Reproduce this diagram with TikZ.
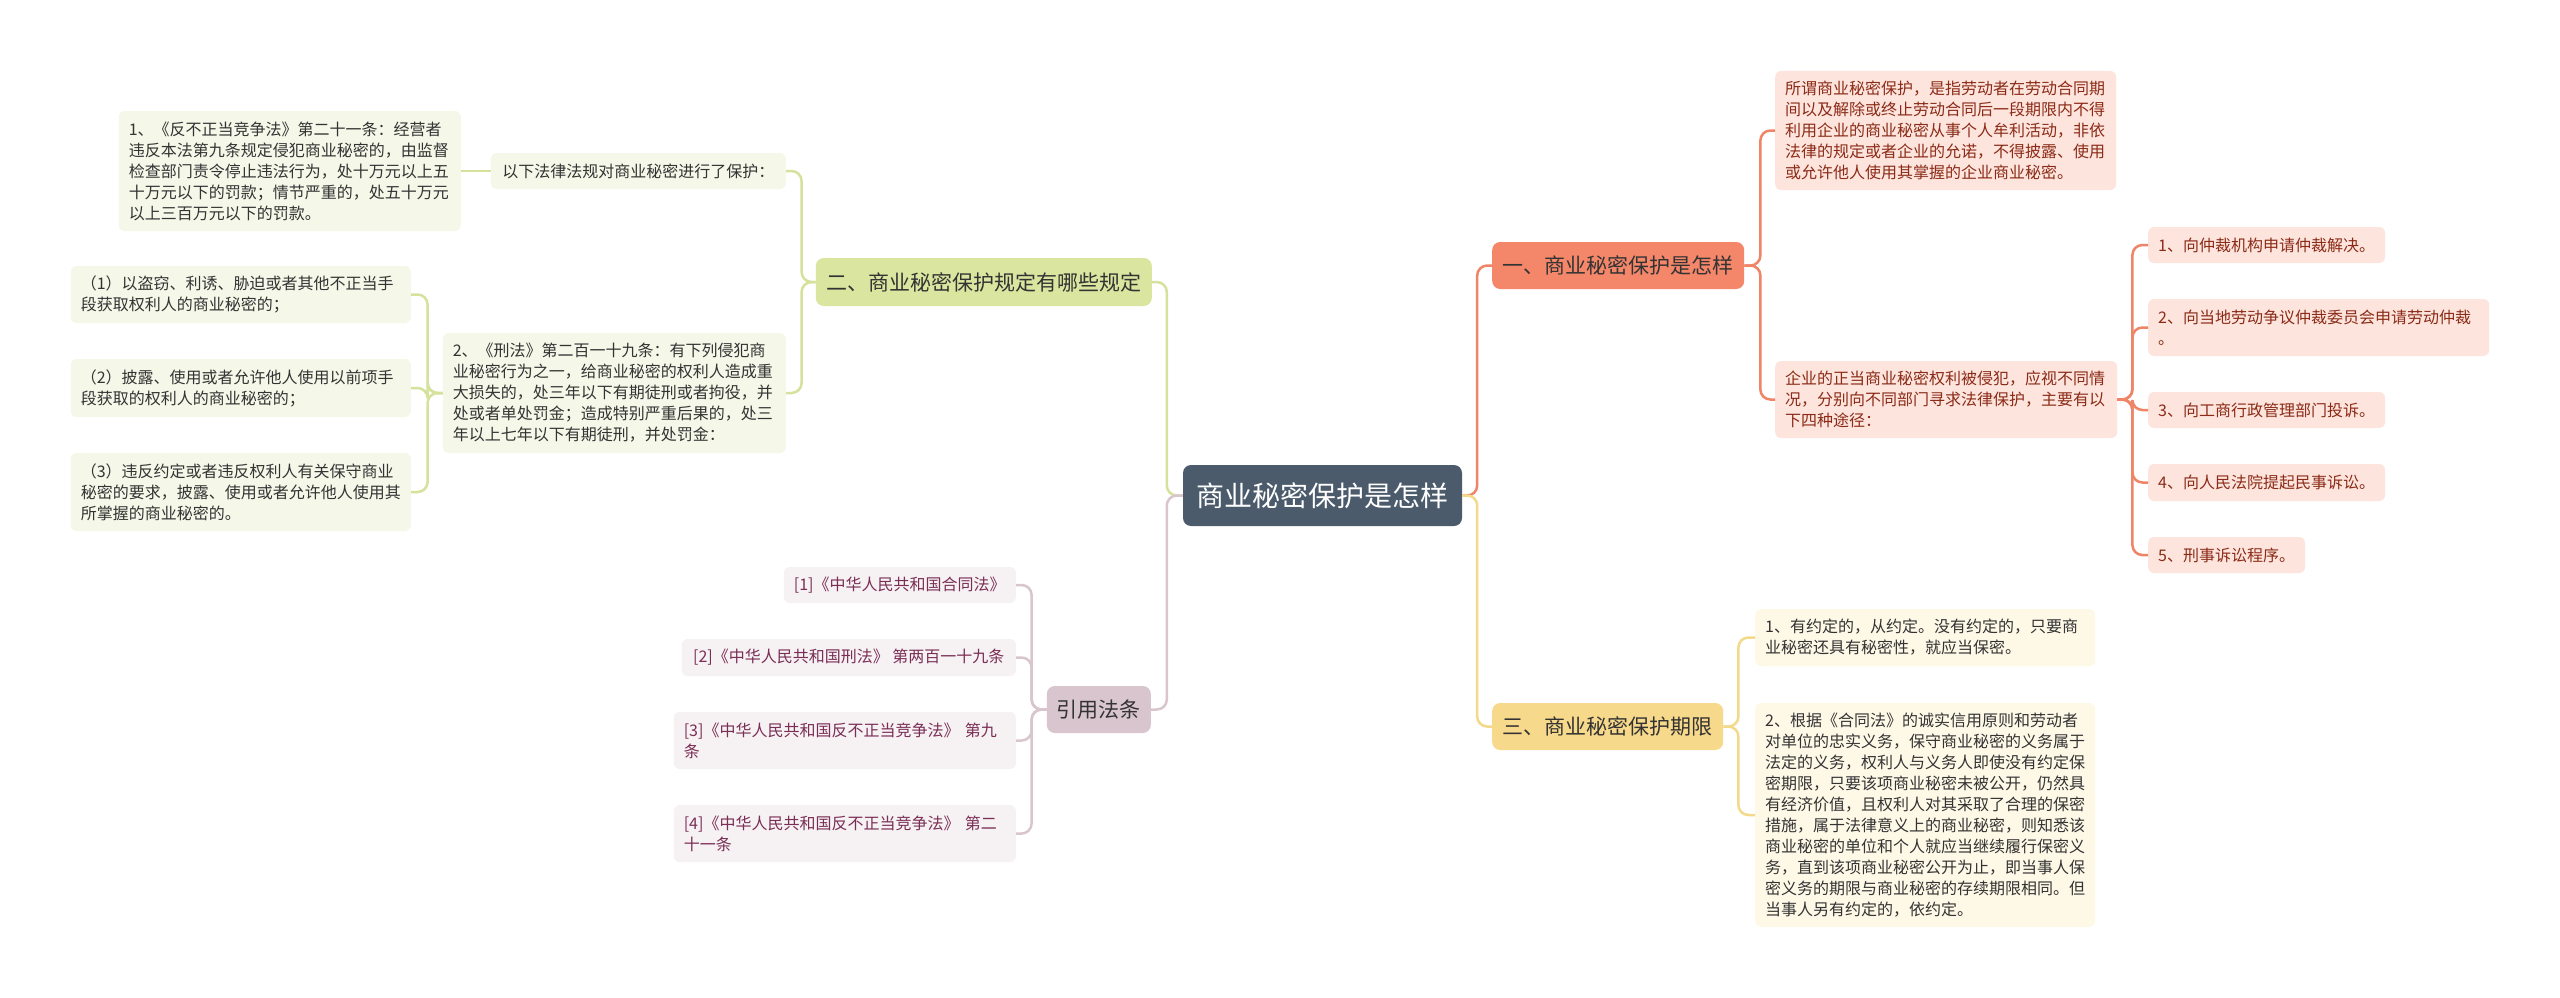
\documentclass[tikz,border=0pt]{standalone}
\usepackage{fontspec}
\setmainfont{Noto Sans CJK SC}
\definecolor{rootc}{HTML}{4B5B6C}
\definecolor{redf}{HTML}{F4866A}
\definecolor{redl}{HTML}{FDE4DD}
\definecolor{redt}{HTML}{8B2B17}
\definecolor{redline}{HTML}{EF8467}
\definecolor{grnf}{HTML}{DAE69F}
\definecolor{grnl}{HTML}{F5F7E8}
\definecolor{grnline}{HTML}{D5E29C}
\definecolor{yelf}{HTML}{F7D98B}
\definecolor{yell}{HTML}{FEF8E7}
\definecolor{yelline}{HTML}{F3D98A}
\definecolor{mauf}{HTML}{D8C5CE}
\definecolor{maul}{HTML}{F6F1F3}
\definecolor{maut}{HTML}{7A2E55}
\definecolor{mauline}{HTML}{D9C5CE}
\definecolor{darktext}{HTML}{333333}
\begin{document}
\begin{tikzpicture}[x=1pt,y=-1pt,
  base/.style={rounded corners=6pt, inner xsep=10pt, inner ysep=3pt,
    font=\fontsize{16}{21}\selectfont, align=left},
  rootbox/.style={fill=rootc, text=white, rounded corners=8pt,
    font=\fontsize{28}{34}\selectfont, minimum width=279, minimum height=61, inner sep=2pt},
  lonebox/.style={rounded corners=8pt, text=darktext, inner sep=2pt,
    font=\fontsize{21}{27}\selectfont, minimum height=47},
  redbox/.style={base, fill=redl, text=redt},
  grnbox/.style={base, fill=grnl, text=darktext},
  yelbox/.style={base, fill=yell, text=darktext},
  maubox/.style={base, fill=maul, text=maut},
  conn/.style={line width=2.5pt, rounded corners=10pt}
]
\fill[white] (0,0) rectangle (2560,998);
\useasboundingbox (0,0) rectangle (2560,998);

% root
\node[rootbox] (root) at (1322.5,495.5) {商业秘密保护是怎样};

% branch one
\node[lonebox, fill=redf, minimum width=252, anchor=west] (n1) at (1492,265.5) {一、商业秘密保护是怎样};
\node[redbox, text width=321pt, minimum height=119, anchor=west] (n1a) at (1775,130.5)
 {所谓商业秘密保护，是指劳动者在劳动合同期\\间以及解除或终止劳动合同后一段期限内不得\\利用企业的商业秘密从事个人牟利活动，非依\\法律的规定或者企业的允诺，不得披露、使用\\或允许他人使用其掌握的企业商业秘密。};
\node[redbox, text width=322pt, minimum height=77, anchor=west] (n1b) at (1775,399.5)
 {企业的正当商业秘密权利被侵犯，应视不同情\\况，分别向不同部门寻求法律保护，主要有以\\下四种途径：};
\node[redbox, minimum width=236, minimum height=36, anchor=west] (n1b1) at (2148,245) {1、向仲裁机构申请仲裁解决。};
\node[redbox, text width=321pt, minimum height=57, anchor=west] (n1b2) at (2148,327.5) {2、向当地劳动争议仲裁委员会申请劳动仲裁\\。};
\node[redbox, minimum width=236, minimum height=36, anchor=west] (n1b3) at (2148,410) {3、向工商行政管理部门投诉。};
\node[redbox, minimum width=236, minimum height=37, anchor=west] (n1b4) at (2148,482.5) {4、向人民法院提起民事诉讼。};
\node[redbox, minimum width=155, minimum height=36, anchor=west] (n1b5) at (2148,555) {5、刑事诉讼程序。};

% branch three
\node[lonebox, fill=yelf, minimum width=231, anchor=west] (n3) at (1492,726.5) {三、商业秘密保护期限};
\node[yelbox, text width=320pt, minimum height=57, anchor=west] (n3a) at (1755,637.5)
 {1、有约定的，从约定。没有约定的，只要商\\业秘密还具有秘密性，就应当保密。};
\node[yelbox, text width=320pt, minimum height=224, anchor=west] (n3b) at (1755,815)
 {2、根据《合同法》的诚实信用原则和劳动者\\对单位的忠实义务，保守商业秘密的义务属于\\法定的义务，权利人与义务人即使没有约定保\\密期限，只要该项商业秘密未被公开，仍然具\\有经济价值，且权利人对其采取了合理的保密\\措施，属于法律意义上的商业秘密，则知悉该\\商业秘密的单位和个人就应当继续履行保密义\\务，直到该项商业秘密公开为止，即当事人保\\密义务的期限与商业秘密的存续期限相同。但\\当事人另有约定的，依约定。};

% branch two
\node[lonebox, fill=grnf, minimum width=336, minimum height=48, anchor=east] (n2) at (1152,282) {二、商业秘密保护规定有哪些规定};
\node[grnbox, minimum width=295, minimum height=36, anchor=east] (n2a) at (786,171) {以下法律法规对商业秘密进行了保护：};
\node[grnbox, text width=322pt, minimum height=120, anchor=east] (n2a1) at (461,171)
 {1、《反不正当竞争法》第二十一条：经营者\\违反本法第九条规定侵犯商业秘密的，由监督\\检查部门责令停止违法行为，处十万元以上五\\十万元以下的罚款；情节严重的，处五十万元\\以上三百万元以下的罚款。};
\node[grnbox, text width=323pt, minimum height=120, anchor=east] (n2b) at (786,393)
 {2、《刑法》第二百一十九条：有下列侵犯商\\业秘密行为之一，给商业秘密的权利人造成重\\大损失的，处三年以下有期徒刑或者拘役，并\\处或者单处罚金；造成特别严重后果的，处三\\年以上七年以下有期徒刑，并处罚金：};
\node[grnbox, text width=320pt, minimum height=57, anchor=east] (n2b1) at (411,294.5)
 {（1）以盗窃、利诱、胁迫或者其他不正当手\\段获取权利人的商业秘密的；};
\node[grnbox, text width=320pt, minimum height=58, anchor=east] (n2b2) at (411,388)
 {（2）披露、使用或者允许他人使用以前项手\\段获取的权利人的商业秘密的；};
\node[grnbox, text width=320pt, minimum height=78, anchor=east] (n2b3) at (411,492)
 {（3）违反约定或者违反权利人有关保守商业\\秘密的要求，披露、使用或者允许他人使用其\\所掌握的商业秘密的。};

% branch cited laws
\node[lonebox, fill=mauf, minimum width=104, anchor=east] (n4) at (1151,709.5) {引用法条};
\node[maubox, minimum width=232, minimum height=36, anchor=east] (n4a) at (1016,585) {[1]《中华人民共和国合同法》};
\node[maubox, minimum width=334, minimum height=37, anchor=east] (n4b) at (1016,657.5) {[2]《中华人民共和国刑法》~第两百一十九条};
\node[maubox, text width=322pt, minimum height=57, anchor=east] (n4c) at (1016,740.5)
 {[3]《中华人民共和国反不正当竞争法》~第九\\条};
\node[maubox, text width=322pt, minimum height=57, anchor=east] (n4d) at (1016,833.5)
 {[4]《中华人民共和国反不正当竞争法》~第二\\十一条};

% connectors
\draw[conn, redline] (root.east) -- ++(15,0) |- (n1.west);
\draw[conn, yelline] (root.east) -- ++(15,0) |- (n3.west);
\draw[conn, grnline] (root.west) -- ++(-16,0) |- (n2.east);
\draw[conn, mauline] (root.west) -- ++(-16,0) |- (n4.east);

\draw[conn, redline] (n1.east) -- ++(16,0) |- (n1a.west);
\draw[conn, redline] (n1.east) -- ++(16,0) |- (n1b.west);
\foreach \c in {n1b1,n1b2,n1b3,n1b4,n1b5}
  \draw[conn, redline] (n1b.east) -- ++(15,0) |- (\c.west);

\draw[conn, yelline] (n3.east) -- ++(15,0) |- (n3a.west);
\draw[conn, yelline] (n3.east) -- ++(15,0) |- (n3b.west);

\draw[conn, grnline] (n2.west) -- ++(-14,0) |- (n2a.east);
\draw[conn, grnline] (n2.west) -- ++(-14,0) |- (n2b.east);
\draw[conn, grnline] (n2a.west) -- (n2a1.east);
\foreach \c in {n2b1,n2b2,n2b3}
  \draw[conn, grnline] (n2b.west) -- ++(-15,0) |- (\c.east);

\foreach \c in {n4a,n4b,n4c,n4d}
  \draw[conn, mauline] (n4.west) -- ++(-15,0) |- (\c.east);
\end{tikzpicture}
\end{document}
